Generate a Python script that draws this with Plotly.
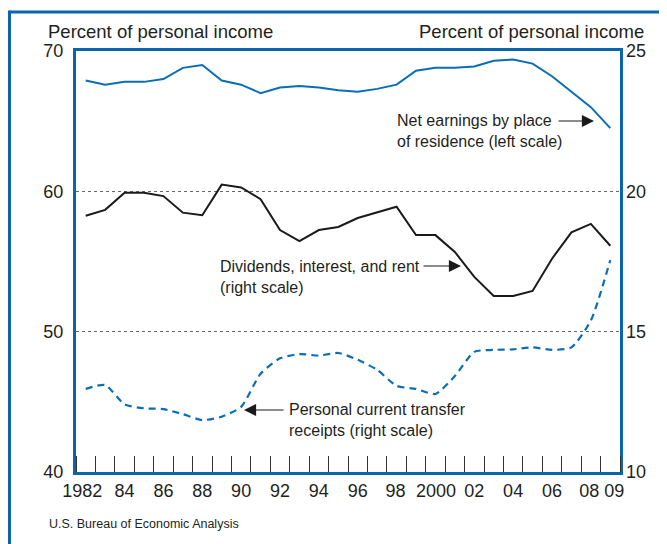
import plotly.graph_objects as go

years = list(range(1982, 2010))
net_earnings = [67.9, 67.6, 67.8, 67.8, 68.0, 68.8, 69.0, 67.9, 67.6, 67.0,
                67.4, 67.5, 67.4, 67.2, 67.1, 67.3, 67.6, 68.6, 68.8, 68.8,
                68.9, 69.3, 69.4, 69.1, 68.2, 67.1, 66.0, 64.5]
dividends = [19.13, 19.34, 19.95, 19.95, 19.83, 19.24, 19.15, 20.24, 20.14, 19.72,
             18.62, 18.23, 18.62, 18.73, 19.05, 19.26, 19.45, 18.44, 18.44, 17.84,
             16.95, 16.27, 16.27, 16.45, 17.6, 18.54, 18.84, 18.06]
transfers = [12.96, 13.1, 12.41, 12.27, 12.24, 12.06, 11.85, 11.97, 12.32, 13.5,
             14.05, 14.2, 14.15, 14.24, 14.0, 13.64, 13.07, 12.96, 12.78, 13.42,
             14.28, 14.35, 14.37, 14.44, 14.35, 14.44, 15.4, 17.55]

tick_years = [1982, 1984, 1986, 1988, 1990, 1992, 1994, 1996, 1998, 2000,
              2002, 2004, 2006, 2008, 2009]
tick_text = ["1982", "84", "86", "88", "90", "92", "94", "96", "98", "2000",
             "02", "04", "06", "08", "09"]
# small label nudges (in years) so crowded labels sit as in the original
tick_nudge = [-0.18, 0, 0, 0, 0, 0, 0, 0, -0.05, 0.03,
              0, 0, 0, -0.08, 0.2]
left_ticks = [40, 50, 60, 70]
right_ticks = [10, 15, 20, 25]

BLUE = "#0a66ac"
LINEBLUE = "#0b6db3"
TXT = "#231f20"
FONT = "Liberation Sans, Arial, Helvetica, sans-serif"

OFF = 8  # page body margin: page pixel = figure pixel + OFF
W, H = 667, 544
L, R, T, B = 76 - OFF, 620 - OFF, 51 - OFF, 472 - OFF


def px(p):
    """page pixel x -> paper x"""
    return (p - OFF - L) / (R - L)


def py(p):
    """page pixel y -> paper y"""
    return (B - (p - OFF)) / (B - T)


fig = go.Figure()
fig.add_trace(go.Scatter(x=years, y=net_earnings, mode="lines",
                         line=dict(color=LINEBLUE, width=2), yaxis="y"))
fig.add_trace(go.Scatter(x=years, y=dividends, mode="lines",
                         line=dict(color="#1a1a1a", width=2), yaxis="y2"))
fig.add_trace(go.Scatter(x=years, y=transfers, mode="lines",
                         line=dict(color=LINEBLUE, width=2.2, dash="7px,5px",
                                   shape="spline", smoothing=0.6),
                         yaxis="y2"))

annotations = [
    dict(text="Percent of personal income", x=px(46), y=py(31), xref="paper", yref="paper",
         xanchor="left", yanchor="middle", showarrow=False,
         font=dict(size=18.5, color=TXT, family=FONT)),
    dict(text="Percent of personal income", x=px(646), y=py(31), xref="paper", yref="paper",
         xanchor="right", yanchor="middle", showarrow=False,
         font=dict(size=18.5, color=TXT, family=FONT)),
    dict(text="U.S. Bureau of Economic Analysis", x=px(47), y=py(524), xref="paper", yref="paper",
         xanchor="left", yanchor="middle", showarrow=False,
         font=dict(size=12.5, color=TXT, family=FONT)),
    dict(text="Net earnings by place<br>of residence (left scale)", x=px(395), y=py(131),
         xref="paper", yref="paper", xanchor="left", yanchor="middle", align="left",
         showarrow=False, font=dict(size=16, color=TXT, family=FONT)),
    dict(text="Dividends, interest, and rent<br>(right scale)", x=px(218), y=py(277),
         xref="paper", yref="paper", xanchor="left", yanchor="middle", align="left",
         showarrow=False, font=dict(size=16, color=TXT, family=FONT)),
    dict(text="Personal current transfer<br>receipts (right scale)", x=px(287), y=py(420),
         xref="paper", yref="paper", xanchor="left", yanchor="middle", align="left",
         showarrow=False, font=dict(size=16, color=TXT, family=FONT)),
]

arrows = [((594, 121), (557, 121)), ((461, 266), (422, 266)), ((244, 410), (285, 410))]
for (hx, hy), (tx, ty) in arrows:
    annotations.append(dict(text="", x=px(hx), y=py(hy), xref="paper", yref="paper",
                            ax=tx - hx, ay=ty - hy, showarrow=True, arrowhead=2,
                            arrowsize=2.2, arrowwidth=1.1, arrowcolor="#1a1a1a",
                            standoff=0, startstandoff=0))

shapes = [
    dict(type="line", xref="paper", yref="paper", x0=px(9.5), x1=px(690), y0=py(12), y1=py(12),
         line=dict(color=BLUE, width=3)),
    dict(type="line", xref="paper", yref="paper", x0=px(9.5), x1=px(9.5), y0=py(10.5), y1=py(570),
         line=dict(color=BLUE, width=3)),
]

fig.update_layout(
    width=W, height=H,
    margin=dict(l=L, r=W - R, t=T, b=H - B, pad=0),
    paper_bgcolor="white", plot_bgcolor="white",
    showlegend=False,
    font=dict(family=FONT, color=TXT, size=18),
    xaxis=dict(range=[1981.5, 2009.5], tickmode="array",
               tickvals=[y + n for y, n in zip(tick_years, tick_nudge)],
               ticktext=tick_text, ticks="", tickangle=0, showgrid=False, zeroline=False,
               showline=True, linecolor=BLUE, linewidth=3, mirror=True,
               tickfont=dict(size=18, color=TXT), ticklabelstandoff=0,
               minor=dict(tick0=1982.5, dtick=1, ticks="inside", ticklen=16,
                          tickwidth=1, tickcolor="#333333", showgrid=False)),
    yaxis=dict(range=[40, 70], tickmode="array", tickvals=left_ticks, ticks="",
               showgrid=True, gridcolor="#666666", griddash="dot", gridwidth=1,
               zeroline=False, showline=True, linecolor=BLUE, linewidth=3, mirror=True,
               tickfont=dict(size=18, color=TXT), ticklabelstandoff=6),
    yaxis2=dict(range=[10, 25], overlaying="y", side="right", tickmode="array",
                tickvals=right_ticks, ticks="", showgrid=False, zeroline=False,
                showline=False, tickfont=dict(size=18, color=TXT), ticklabelstandoff=5),
    annotations=annotations,
    shapes=shapes,
)

fig.write_html("out.html")
